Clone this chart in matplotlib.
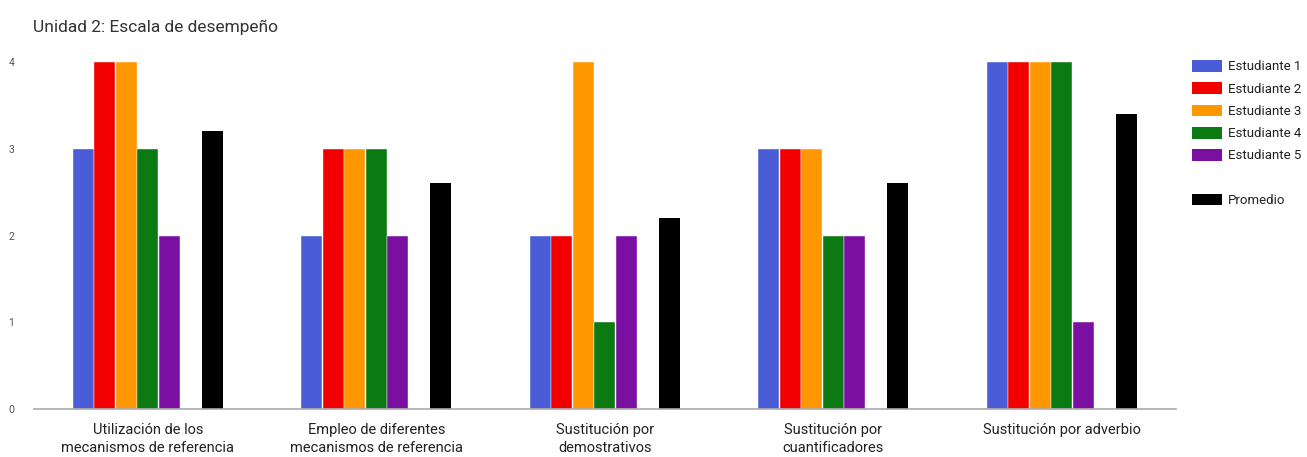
import matplotlib
matplotlib.use("Agg")
import matplotlib.pyplot as plt
from matplotlib.patches import Patch
import numpy as np

plt.rcParams['font.family'] = ['Roboto', 'DejaVu Sans']

title = "Unidad 2: Escala de desempeño"
categories = [
    "Utilización de los\nmecanismos de referencia",
    "Empleo de diferentes\nmecanismos de referencia",
    "Sustitución por\ndemostrativos",
    "Sustitución por\ncuantificadores",
    "Sustitución por adverbio",
]
series_names = ["Estudiante 1", "Estudiante 2", "Estudiante 3", "Estudiante 4", "Estudiante 5"]
estudiante_1 = [3, 2, 2, 3, 4]
estudiante_2 = [4, 3, 2, 3, 4]
estudiante_3 = [4, 3, 4, 3, 4]
estudiante_4 = [3, 3, 1, 2, 4]
estudiante_5 = [2, 2, 2, 2, 1]
promedio = [3.2, 2.6, 2.2, 2.6, 3.4]
y_ticks = [0, 1, 2, 3, 4]

colors = ['#4a5cd6', '#f20000', '#ff9800', '#0b7a12', '#7a0fa2']
avg_color = '#000000'

W, H = 1307, 457
fig = plt.figure(figsize=(W / 100, H / 100), dpi=100)
ax = fig.add_axes([33.75 / W, 1 - 409 / H, (1176 - 33.75) / W, (409 - 62) / H])

x = np.arange(len(categories))
slot = 21.5 / 228.5
bar_w = 0.092
student_data = [estudiante_1, estudiante_2, estudiante_3, estudiante_4, estudiante_5]
handles = []
for k, (vals, c, name) in enumerate(zip(student_data, colors, series_names)):
    ax.bar(x + (k - 3) * slot, vals, width=bar_w, color=c, label=name,
           edgecolor='white', linewidth=0.3, zorder=2)
    handles.append(Patch(facecolor=c, label=name))
ax.bar(x + 3 * slot, promedio, width=bar_w, color=avg_color, label="Promedio", zorder=2)
handles.append(Patch(facecolor='none', edgecolor='none', label=' '))
handles.append(Patch(facecolor=avg_color, label="Promedio"))

ax.set_xlim(-0.5, len(categories) - 0.5)
ax.set_ylim(0, 4)
ax.set_yticks(y_ticks)
ax.set_yticklabels([str(t) for t in y_ticks], fontsize=7.5, color='#555555')
ax.tick_params(axis='y', length=0, pad=14)
ax.set_xticks(x)
ax.set_xticklabels(categories, fontsize=10.5, color='#222222', linespacing=1.35)
ax.tick_params(axis='x', length=0, pad=10)
for s in ['top', 'right', 'left']:
    ax.spines[s].set_visible(False)
ax.spines['bottom'].set_color('#aaaaaa')
ax.spines['bottom'].set_linewidth(1.2)
ax.spines['bottom'].set_zorder(3)

fig.text(33 / W, 1 - 27 / H, title, fontsize=12.5, color='#333333', va='center', ha='left')

leg = fig.legend(handles=handles, loc='upper left',
                 bbox_to_anchor=(1192 / W, 1 - 60 / H), frameon=False,
                 fontsize=9.5, handlelength=2.27, handleheight=1.0,
                 handletextpad=0.45, labelspacing=0.67, borderpad=0, borderaxespad=0)
for t in leg.get_texts():
    t.set_color('#222222')

fig.savefig('out.png', dpi=100, facecolor='white')
